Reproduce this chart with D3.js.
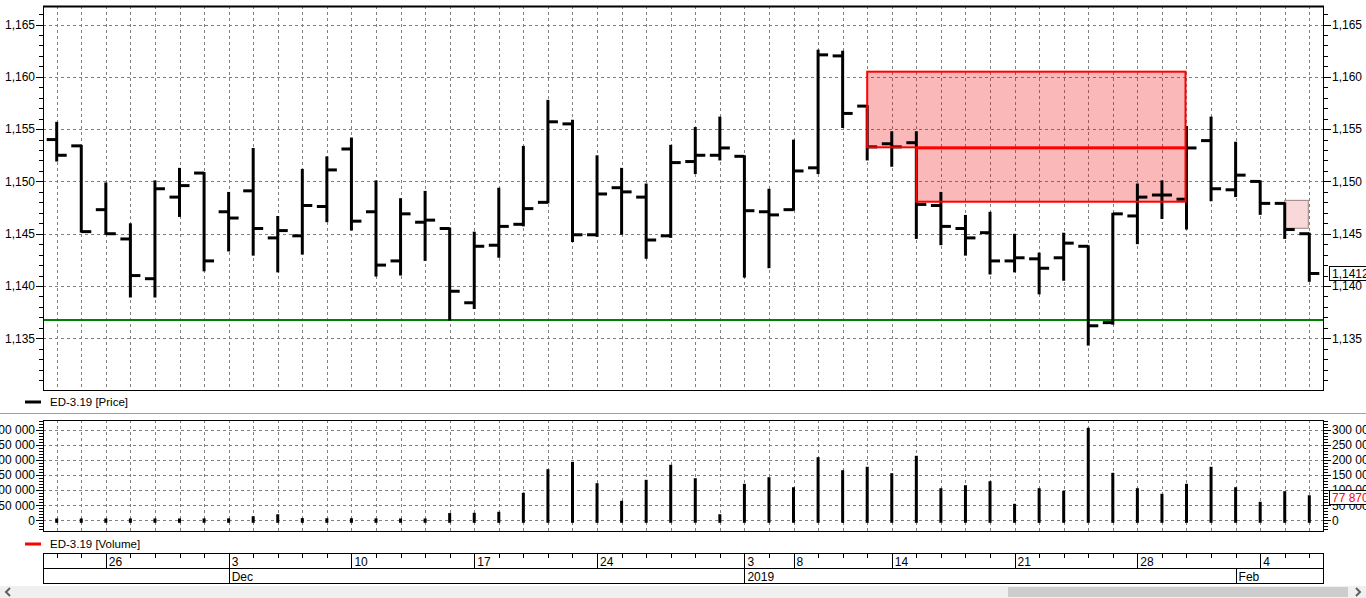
<!DOCTYPE html>
<html>
<head>
<meta charset="utf-8">
<script src="https://cdn.jsdelivr.net/npm/d3@7"></script>
<style>
  body { margin: 0; background: #fff; overflow: hidden; }
  svg { display: block; font-family: "Liberation Sans", Arial, sans-serif; }
</style>
</head>
<body>
<div id="chart"></div>
<script>
// trading days, ED-3.19 daily bars
const dates = [
  "2018-11-22","2018-11-23","2018-11-26","2018-11-27","2018-11-28","2018-11-29","2018-11-30",
  "2018-12-03","2018-12-04","2018-12-05","2018-12-06","2018-12-07","2018-12-10","2018-12-11",
  "2018-12-12","2018-12-13","2018-12-14","2018-12-17","2018-12-18","2018-12-19","2018-12-20",
  "2018-12-21","2018-12-24","2018-12-25","2018-12-26","2018-12-27","2018-12-28","2018-12-29",
  "2019-01-03","2019-01-04","2019-01-08","2019-01-09","2019-01-10","2019-01-11","2019-01-14",
  "2019-01-15","2019-01-16","2019-01-17","2019-01-18","2019-01-21","2019-01-22","2019-01-23",
  "2019-01-24","2019-01-25","2019-01-28","2019-01-29","2019-01-30","2019-01-31","2019-02-01",
  "2019-02-04","2019-02-05","2019-02-06"
];

const open = [1.1540,1.1534,1.1473,1.1445,1.1407,1.1485,1.1508,1.1471,1.1491,1.1446,1.1448,1.1476,1.1531,
  1.1471,1.1424,1.1461,1.1455,1.1384,1.1439,1.1459,1.1480,1.1555,1.1449,1.1494,1.1485,1.1448,1.1519,1.1525,
  1.1524,1.1471,1.1473,1.1513,1.1620,1.1572,1.1536,1.1537,1.1477,1.1455,1.1451,1.1424,1.1426,1.1427,1.1438,
  1.1365,1.1467,1.1487,1.1483,1.1539,1.1492,1.1500,1.1479,1.1450];
const high = [1.1556,1.1534,1.1498,1.1459,1.1500,1.1512,1.1508,1.1489,1.1531,1.1466,1.1511,1.1523,1.1541,
  1.1500,1.1483,1.1490,1.1455,1.1451,1.1493,1.1533,1.1577,1.1558,1.1524,1.1512,1.1497,1.1534,1.1551,1.1561,
  1.1524,1.1492,1.1539,1.1625,1.1624,1.1572,1.1547,1.1547,1.1489,1.1467,1.1470,1.1449,1.1431,1.1450,1.1438,
  1.1469,1.1497,1.1500,1.1552,1.1561,1.1537,1.1500,1.1479,1.1450];
const low = [1.1520,1.1452,1.1450,1.1390,1.1390,1.1467,1.1415,1.1434,1.1430,1.1414,1.1431,1.1462,1.1454,
  1.1410,1.1411,1.1425,1.1368,1.1379,1.1428,1.1458,1.1480,1.1443,1.1448,1.1450,1.1427,1.1447,1.1508,1.1521,
  1.1409,1.1418,1.1473,1.1508,1.1552,1.1521,1.1515,1.1446,1.1440,1.1430,1.1412,1.1414,1.1393,1.1406,1.1344,
  1.1364,1.1441,1.1465,1.1455,1.1482,1.1486,1.1469,1.1446,1.1405];
const close = [1.1525,1.1452,1.1450,1.1410,1.1493,1.1496,1.1424,1.1465,1.1455,1.1453,1.1477,1.1511,1.1462,
  1.1420,1.1469,1.1463,1.1395,1.1438,1.1457,1.1474,1.1557,1.1449,1.1488,1.1490,1.1444,1.1518,1.1525,1.1532,
  1.1472,1.1468,1.1510,1.1621,1.1565,1.1533,1.1533,1.1478,1.1457,1.1446,1.1424,1.1427,1.1417,1.1441,1.1362,
  1.1469,1.1485,1.1487,1.1532,1.1493,1.1506,1.1479,1.1454,1.1412];
const volume = [1200,1200,1200,1200,1200,1200,1500,1500,8600,15000,2500,2000,2000,1500,1200,1200,19000,
  19900,23200,86100,164200,188700,117900,59600,129100,178800,134400,15200,115900,137700,104600,204000,
  160900,172200,151000,208600,101300,111200,124500,49700,101300,92700,301300,152300,101300,82800,115900,
  172200,104600,56300,91400,77870];

// support level and marked zones
const support = 1.13675;
const zones = [
  {from: "2019-01-11", to: "2019-01-30", top: 1.16049, bottom: 1.15326},
  {from: "2019-01-15", to: "2019-01-30", top: 1.15316, bottom: 1.14806}
];
const smallZone = {from: "2019-02-05", to: "2019-02-06", top: 1.14819, bottom: 1.14552};

const priceTicks = [1.135, 1.140, 1.145, 1.150, 1.155, 1.160, 1.165];
const volumeTicks = [0, 50000, 100000, 150000, 200000, 250000, 300000];
const dayLabels = ["2018-11-26","2018-12-03","2018-12-10","2018-12-17","2018-12-24","2019-01-03",
  "2019-01-08","2019-01-14","2019-01-21","2019-01-28","2019-02-04"];
const monthLabels = [["2018-12-03","Dec"],["2019-01-03","2019"],["2019-02-01","Feb"]];

const width = 1366, height = 598;
const left = 43, right = 1323;
const price = {top: 6, bottom: 390};
const vol = {top: 420, bottom: 531};
const axisBox = {top: 553, mid: 568, bottom: 583};

const parseDate = d3.timeParse("%Y-%m-%d");
const fmtDay = d3.timeFormat("%-d");
const locale = d3.formatLocale({decimal: ",", thousands: " ", grouping: [3], currency: ["", ""]});
const fmtPrice = locale.format(".3f");
const fmtVol = locale.format(",.0f");

const x = d3.scalePoint().domain(dates).range([56.7, 1309.3]);
const y = d3.scaleLinear().domain([1.13006, 1.16677]).range([price.bottom, price.top]);
const yv = d3.scaleLinear().domain([-35400, 332100]).range([vol.bottom, vol.top]);

const svg = d3.select("#chart").append("svg")
    .attr("width", width)
    .attr("height", height);

const grid = (top, bottom, scale, ticks) => {
    const g = svg.append("g")
        .attr("stroke", "#808080")
        .attr("stroke-dasharray", "3,3")
        .attr("shape-rendering", "crispEdges");
    g.selectAll(".v").data(dates).join("line")
        .attr("x1", d => Math.round(x(d)) + 0.5).attr("x2", d => Math.round(x(d)) + 0.5)
        .attr("y1", top).attr("y2", bottom);
    g.selectAll(".h").data(ticks).join("line")
        .attr("x1", left).attr("x2", right)
        .attr("y1", d => Math.round(scale(d)) + 0.5).attr("y2", d => Math.round(scale(d)) + 0.5);
};

grid(price.top, price.bottom, y, priceTicks);
grid(vol.top, vol.bottom, yv, volumeTicks);

// small shaded box behind the bars
svg.append("rect")
    .attr("x", x(smallZone.from))
    .attr("width", x(smallZone.to) - x(smallZone.from) - 1)
    .attr("y", y(smallZone.top))
    .attr("height", y(smallZone.bottom) - y(smallZone.top))
    .attr("fill", "#f8d8d8")
    .attr("stroke", "#9a8080")
    .attr("stroke-width", 1);

svg.append("g").selectAll("rect").data(zones).join("rect")
    .attr("x", d => x(d.from))
    .attr("width", d => x(d.to) - x(d.from) - 1)
    .attr("y", d => y(d.top))
    .attr("height", d => y(d.bottom) - y(d.top))
    .attr("fill", "rgba(240,0,0,0.28)");

svg.append("line")
    .attr("x1", left).attr("x2", right)
    .attr("y1", y(support)).attr("y2", y(support))
    .attr("stroke", "#008000")
    .attr("stroke-width", 2);

// OHLC bars
const bars = svg.append("g")
    .attr("stroke", "#000")
    .attr("stroke-width", 3);

dates.forEach((d, i) => {
    const cx = x(d);
    bars.append("line").attr("x1", cx).attr("x2", cx).attr("y1", y(high[i]) - 1).attr("y2", y(low[i]) + 1);
    bars.append("line").attr("x1", cx - 10).attr("x2", cx).attr("y1", y(open[i])).attr("y2", y(open[i]));
    bars.append("line").attr("x1", cx).attr("x2", cx + 10).attr("y1", y(close[i])).attr("y2", y(close[i]));
});

svg.append("g").selectAll("rect").data(zones).join("rect")
    .attr("x", d => x(d.from))
    .attr("width", d => x(d.to) - x(d.from) - 1)
    .attr("y", d => y(d.top))
    .attr("height", d => y(d.bottom) - y(d.top))
    .attr("fill", "none")
    .attr("stroke", "#ff0000")
    .attr("stroke-width", 2);

// volume bars
svg.append("g").selectAll("line").data(dates).join("line")
    .attr("x1", d => x(d)).attr("x2", d => x(d))
    .attr("y1", yv(0) + 1)
    .attr("y2", (d, i) => yv(volume[i]))
    .attr("stroke", "#000")
    .attr("stroke-width", 3)
    .attr("stroke-linecap", "square");

// panel frames
[price, vol].forEach(p => {
    svg.append("rect")
        .attr("x", left + 0.5).attr("y", p.top + 0.5)
        .attr("width", right - left).attr("height", p.bottom - p.top)
        .attr("fill", "none")
        .attr("stroke", "#000")
        .attr("shape-rendering", "crispEdges");
});
svg.append("line")
    .attr("x1", left).attr("x2", right + 1)
    .attr("y1", price.top + 0.5).attr("y2", price.top + 0.5)
    .attr("stroke", "#000").attr("stroke-width", 2);

const styleAxis = g => g
    .call(g => g.select(".domain").remove())
    .attr("font-family", "Liberation Sans, Arial, sans-serif")
    .attr("font-size", 12)
    .attr("shape-rendering", "crispEdges");

const drawAxes = (scale, major, minor, fmt) => {
    svg.append("g").attr("transform", `translate(${left},0)`)
        .call(d3.axisLeft(scale).tickValues(minor).tickSize(4).tickFormat(""))
        .call(styleAxis);
    svg.append("g").attr("transform", `translate(${left},0)`)
        .call(d3.axisLeft(scale).tickValues(major).tickSize(7).tickPadding(1).tickFormat(fmt))
        .call(styleAxis);
    svg.append("g").attr("transform", `translate(${right + 1},0)`)
        .call(d3.axisRight(scale).tickValues(minor).tickSize(4).tickFormat(""))
        .call(styleAxis);
    svg.append("g").attr("transform", `translate(${right + 1},0)`)
        .call(d3.axisRight(scale).tickValues(major).tickSize(7).tickPadding(1).tickFormat(fmt))
        .call(styleAxis);
};

drawAxes(y, priceTicks, d3.range(1131, 1167).map(d => d / 1000), fmtPrice);
drawAxes(yv, volumeTicks, d3.range(-30000, 330001, 10000), fmtVol);

// last value markers
const lastMarker = (yPos, text, color) => {
    svg.append("rect")
        .attr("x", 1329.5).attr("y", Math.round(yPos) - 6.5)
        .attr("width", 45).attr("height", 14)
        .attr("fill", "#fff").attr("stroke", "#000");
    svg.append("text")
        .attr("x", 1332).attr("y", Math.round(yPos) + 4.5)
        .attr("font-size", 12).attr("fill", color)
        .text(text);
};
lastMarker(y(close[close.length - 1]), locale.format(".4f")(close[close.length - 1]), "#000");
lastMarker(yv(volume[volume.length - 1]), fmtVol(volume[volume.length - 1]), "#ff0000");

// legends
const legend = (yPos, color, text) => {
    svg.append("line")
        .attr("x1", 25).attr("x2", 41).attr("y1", yPos).attr("y2", yPos)
        .attr("stroke", color).attr("stroke-width", 3);
    svg.append("text")
        .attr("x", 50).attr("y", yPos + 4)
        .attr("font-size", 11.5)
        .text(text);
};
legend(402, "#000", "ED-3.19 [Price]");
legend(544, "#ff0000", "ED-3.19 [Volume]");

svg.append("line")
    .attr("x1", 0).attr("x2", width).attr("y1", 413.5).attr("y2", 413.5)
    .attr("stroke", "#a0a0a0");

// date axis
const dateAxis = svg.append("g")
    .attr("stroke", "#000")
    .attr("shape-rendering", "crispEdges");
dateAxis.append("rect")
    .attr("x", left + 0.5).attr("y", axisBox.top + 0.5)
    .attr("width", right - left).attr("height", axisBox.bottom - axisBox.top)
    .attr("fill", "none");
dateAxis.append("line")
    .attr("x1", left).attr("x2", right).attr("y1", axisBox.mid + 0.5).attr("y2", axisBox.mid + 0.5);
dateAxis.selectAll(".tick").data(dates).join("line")
    .attr("x1", d => Math.round(x(d)) + 0.5).attr("x2", d => Math.round(x(d)) + 0.5)
    .attr("y1", axisBox.top).attr("y2", axisBox.top + 5);
dateAxis.selectAll(".day").data(dayLabels).join("line")
    .attr("x1", d => Math.round(x(d)) + 0.5).attr("x2", d => Math.round(x(d)) + 0.5)
    .attr("y1", axisBox.top).attr("y2", axisBox.mid);
dateAxis.selectAll(".month").data(monthLabels).join("line")
    .attr("x1", d => Math.round(x(d[0])) + 0.5).attr("x2", d => Math.round(x(d[0])) + 0.5)
    .attr("y1", axisBox.mid).attr("y2", axisBox.bottom);

svg.append("g").selectAll("text").data(dayLabels).join("text")
    .attr("x", d => x(d) + 3).attr("y", axisBox.mid - 2)
    .attr("font-size", 12)
    .text(d => fmtDay(parseDate(d)));
svg.append("g").selectAll("text").data(monthLabels).join("text")
    .attr("x", d => x(d[0]) + 3).attr("y", axisBox.bottom - 2)
    .attr("font-size", 12)
    .text(d => d[1]);

// scrollbar
svg.append("rect").attr("x", 0).attr("y", 586).attr("width", width).attr("height", 12).attr("fill", "#f0f0f0");
svg.append("rect").attr("x", 1008).attr("y", 587).attr("width", 340).attr("height", 10).attr("fill", "#cdcdcd");
svg.append("path").attr("d", "M10,588L6,592L10,596").attr("fill", "none").attr("stroke", "#606060").attr("stroke-width", 2);
svg.append("path").attr("d", "M1356,588L1360,592L1356,596").attr("fill", "none").attr("stroke", "#606060").attr("stroke-width", 2);
</script>
</body>
</html>
